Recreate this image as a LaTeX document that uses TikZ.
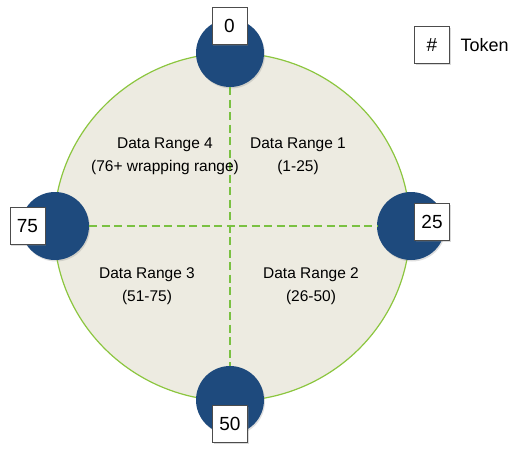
\documentclass[tikz,border=0pt]{standalone}
\usepackage{fontspec}
\setmainfont{Liberation Sans}
\usetikzlibrary{shapes.geometric,shadows}
\definecolor{ringfill}{HTML}{EDEBE1}
\definecolor{ringline}{HTML}{8CC63F}
\definecolor{splitline}{HTML}{7AC142}
\definecolor{tokenblue}{HTML}{1E4A7D}
\begin{document}
\begin{tikzpicture}[
    x=1pt, y=-1pt,
    ring/.style={draw=ringline,fill=ringfill,line width=1.2pt,ellipse,inner sep=0pt},
    tokencircle/.style={circle,fill=tokenblue,inner sep=0pt,minimum size=68pt,
        drop shadow={opacity=0.25,shadow xshift=1pt,shadow yshift=-1.5pt}},
    tokenbox/.style={draw=black!70,fill=white,line width=0.6pt,minimum width=35pt,minimum height=37pt,
        inner sep=0pt,font=\fontsize{19}{22}\selectfont,
        drop shadow={opacity=0.3,shadow xshift=1pt,shadow yshift=-1pt}},
    split/.style={draw=splitline,line width=2.8pt,dash pattern=on 8pt off 4.5pt},
    rangetext/.style={align=center,font=\fontsize{15.5}{23}\selectfont}
]
\useasboundingbox (0,0) rectangle (514,448);
\node[ring,minimum width=356pt,minimum height=348pt] (ring) at (232,227) {};

\node[tokencircle] (c0) at (230,53) {};
\node[tokencircle] (c25) at (411,226) {};
\node[tokencircle] (c50) at (230,400) {};
\node[tokencircle] (c75) at (55,226) {};

\draw[split] (c0)--(c50);
\draw[split] (c75)--(c25);

\node[tokenbox] (t0) at (229.5,26) {0};
\node[tokenbox] (t25) at (432,222) {25};
\node[tokenbox] (t50) at (230,424) {50};
\node[tokenbox] (t75) at (27.5,226) {75};

\node[rangetext] (r4) at (165,156) {Data Range 4\\(76+ wrapping range)};
\node[rangetext] (r1) at (298,156) {Data Range 1\\(1-25)};
\node[rangetext] (r3) at (147,286) {Data Range 3\\(51-75)};
\node[rangetext] (r2) at (311,286) {Data Range 2\\(26-50)};

\node[tokenbox] (key) at (432,45) {\#};
\node[font=\fontsize{18}{21}\selectfont,anchor=west] (keytext) at (457,45) {Token};
\end{tikzpicture}
\end{document}
